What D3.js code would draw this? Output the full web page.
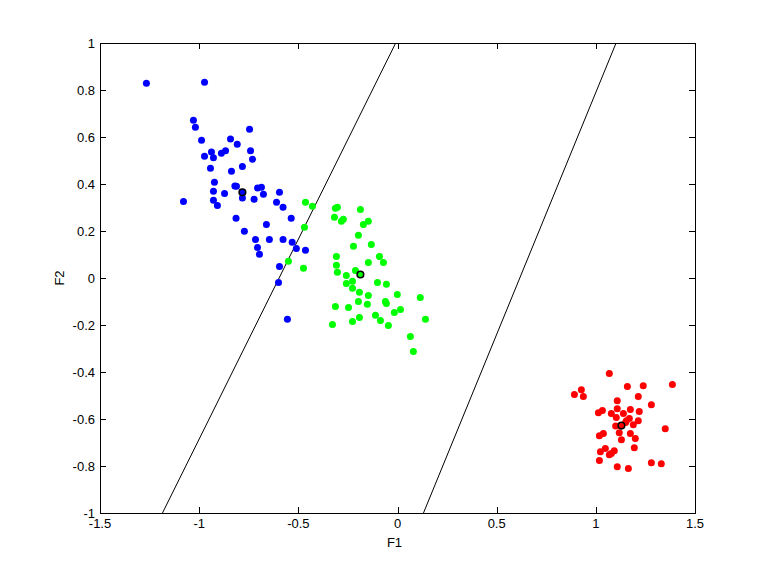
<!DOCTYPE html>
<html>
<head>
<meta charset="utf-8">
<script src="https://cdn.jsdelivr.net/npm/d3@7"></script>
<style>
  html, body { margin: 0; padding: 0; background: #fff; }
  svg { display: block; }
  text { font-family: "Liberation Sans", Arial, sans-serif; font-size: 13px; fill: #000; }
</style>
</head>
<body>
<svg id="chart" width="768" height="576"></svg>
<script>
// ---- data ----
const xTicks = [-1.5, -1, -0.5, 0, 0.5, 1, 1.5];
const yTicks = [-1, -0.8, -0.6, -0.4, -0.2, 0, 0.2, 0.4, 0.6, 0.8, 1];
const xTickLabels = ["-1.5", "-1", "-0.5", "0", "0.5", "1", "1.5"];
const yTickLabels = ["-1", "-0.8", "-0.6", "-0.4", "-0.2", "0", "0.2", "0.4", "0.6", "0.8", "1"];

const blueX = [-1.266,-0.973,-1.029,-1.019,-0.746,-0.988,-0.842,-0.808,-0.938,-0.867,-0.888,-0.741,-0.973,-0.928,-0.731,-0.943,-0.782,-0.837,-0.923,-0.820,-0.812,-0.706,-0.686,-0.928,-0.872,-0.782,-0.676,-0.595,-1.079,-0.928,-0.908,-0.723,-0.610,-0.577,-0.814,-0.536,-0.661,-0.772,-0.716,-0.646,-0.577,-0.531,-0.510,-0.464,-0.706,-0.696,-0.595,-0.600,-0.555];
const blueY = [0.829,0.833,0.671,0.642,0.633,0.586,0.591,0.569,0.536,0.541,0.531,0.541,0.518,0.512,0.505,0.467,0.475,0.454,0.407,0.392,0.390,0.383,0.386,0.369,0.360,0.340,0.356,0.365,0.326,0.331,0.309,0.335,0.322,0.301,0.254,0.254,0.228,0.199,0.164,0.164,0.164,0.152,0.126,0.118,0.130,0.101,0.049,-0.019,-0.176];

const greenX = [-0.464,-0.429,-0.313,-0.303,-0.187,-0.318,-0.273,-0.283,-0.147,-0.172,-0.469,-0.197,-0.222,-0.132,-0.308,-0.091,-0.550,-0.147,-0.071,-0.308,-0.474,-0.303,-0.212,-0.258,-0.227,-0.258,-0.101,-0.056,-0.227,-0.192,-0.147,-0.001,0.115,-0.197,-0.061,-0.056,-0.152,-0.313,-0.247,0.015,-0.016,-0.111,-0.192,-0.086,-0.227,0.141,-0.328,-0.046,0.065,0.080];
const greenY = [0.322,0.305,0.297,0.301,0.292,0.258,0.250,0.241,0.241,0.228,0.216,0.182,0.135,0.143,0.092,0.092,0.071,0.066,0.066,0.054,0.041,0.024,0.032,0.011,-0.014,-0.023,-0.019,-0.027,-0.044,-0.061,-0.074,-0.070,-0.083,-0.100,-0.100,-0.108,-0.112,-0.121,-0.125,-0.134,-0.147,-0.159,-0.168,-0.181,-0.185,-0.176,-0.198,-0.202,-0.249,-0.313];

const redX = [1.068,0.927,0.892,0.937,1.159,1.239,1.386,1.214,1.108,1.280,1.108,1.013,1.033,1.078,1.139,1.174,1.219,1.103,1.169,1.154,1.214,1.189,1.350,1.118,1.174,1.038,1.018,1.129,1.199,1.194,1.048,1.023,1.093,1.068,1.078,1.018,1.108,1.164,1.280,1.330,1.150,1.100];
const redY = [-0.406,-0.475,-0.496,-0.504,-0.462,-0.458,-0.453,-0.504,-0.522,-0.539,-0.556,-0.573,-0.564,-0.577,-0.577,-0.560,-0.568,-0.594,-0.598,-0.607,-0.607,-0.624,-0.641,-0.658,-0.662,-0.662,-0.671,-0.688,-0.683,-0.722,-0.726,-0.739,-0.735,-0.752,-0.747,-0.777,-0.803,-0.811,-0.786,-0.790,-0.615,-0.630];

const meansX = [-0.782, -0.187, 1.129];
const meansY = [0.365, 0.015, -0.628];
const meanColors = ["#0000ff", "#00ff00", "#ff0000"];

const boundary1X = [-1.185, -0.009];
const boundary1Y = [-1, 1];
const boundary2X = [0.131, 1.102];
const boundary2Y = [-1, 1];

// ---- layout ----
const L = 100, T = 43, W = 595, H = 470;
const svg = d3.select("#chart");
const x = d3.scaleLinear().domain([-1.5, 1.5]).range([L, L + W]);
const y = d3.scaleLinear().domain([-1, 1]).range([T + H, T]);

const plot = svg.append("g");

// boundary lines (clipped to axes)
svg.append("clipPath").attr("id", "clip").append("rect")
  .attr("x", L).attr("y", T).attr("width", W).attr("height", H);
const line = d3.line().x(d => x(d[0])).y(d => y(d[1]));
[[boundary1X, boundary1Y], [boundary2X, boundary2Y]].forEach(([bx, by]) => {
  plot.append("path")
    .attr("clip-path", "url(#clip)")
    .attr("d", line(bx.map((v, i) => [v, by[i]])))
    .attr("fill", "none").attr("stroke", "#000").attr("stroke-width", 1);
});

function dots(xs, ys, color) {
  plot.append("g").selectAll("circle")
    .data(xs.map((v, i) => [v, ys[i]]))
    .join("circle")
    .attr("cx", d => x(d[0])).attr("cy", d => y(d[1]))
    .attr("r", 3.5).attr("fill", color);
}
dots(blueX, blueY, "#0000ff");
dots(greenX, greenY, "#00ff00");
dots(redX, redY, "#ff0000");

// means
meansX.forEach((mx, i) => {
  plot.append("circle").attr("cx", x(mx)).attr("cy", y(meansY[i]))
    .attr("r", 3.5).attr("fill", meanColors[i]);
  plot.append("circle").attr("cx", x(mx)).attr("cy", y(meansY[i]))
    .attr("r", 3.3).attr("fill", "none").attr("stroke", "#000").attr("stroke-width", 1.6);
});

// axes box
const ax = svg.append("g").attr("shape-rendering", "crispEdges");
ax.append("rect").attr("x", L + 0.5).attr("y", T + 0.5).attr("width", W).attr("height", H)
  .attr("fill", "none").attr("stroke", "#000");

const tl = 6;
xTicks.forEach((t, i) => {
  const px = Math.round(x(t)) + 0.5;
  ax.append("line").attr("x1", px).attr("x2", px).attr("y1", T + H).attr("y2", T + H - tl).attr("stroke", "#000");
  ax.append("line").attr("x1", px).attr("x2", px).attr("y1", T).attr("y2", T + tl).attr("stroke", "#000");
  svg.append("text").attr("x", x(t)).attr("y", T + H + 15).attr("text-anchor", "middle").text(xTickLabels[i]);
});
yTicks.forEach((t, i) => {
  const py = Math.round(y(t)) + 0.5;
  ax.append("line").attr("x1", L).attr("x2", L + tl).attr("y1", py).attr("y2", py).attr("stroke", "#000");
  ax.append("line").attr("x1", L + W).attr("x2", L + W - tl).attr("y1", py).attr("y2", py).attr("stroke", "#000");
  svg.append("text").attr("x", L - 5).attr("y", y(t)).attr("dy", "0.35em").attr("text-anchor", "end").text(yTickLabels[i]);
});

// axis labels
svg.append("text").attr("x", L + W / 2 - 3).attr("y", T + H + 34).attr("text-anchor", "middle").text("F1");
svg.append("text").attr("transform", `translate(64,${T + H / 2}) rotate(-90)`).attr("text-anchor", "middle").text("F2");
</script>
</body>
</html>
